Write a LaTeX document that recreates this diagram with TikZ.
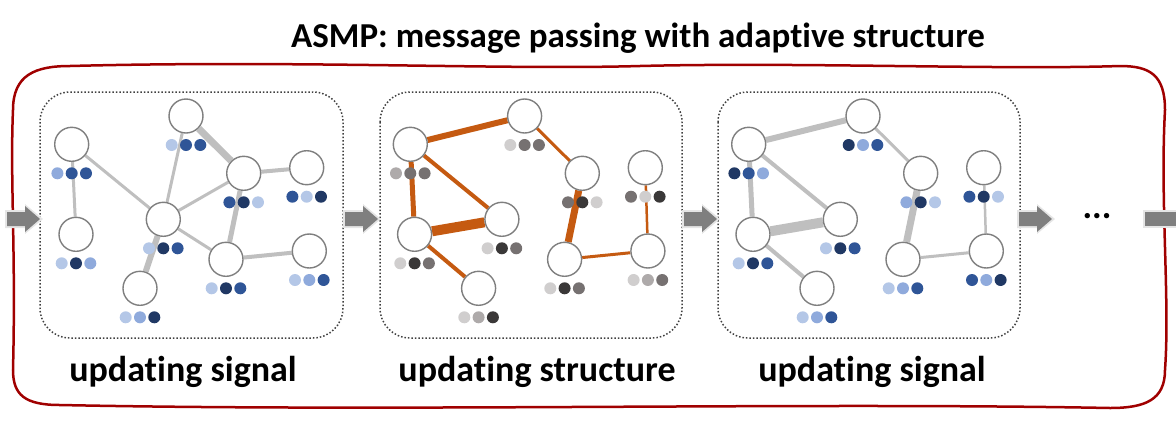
\documentclass[tikz,border=0pt]{standalone}
\usepackage{fontspec}
\setmainfont[Ligatures=NoCommon]{Carlito}
\usetikzlibrary{backgrounds}
\definecolor{lb}{HTML}{B4C7E7}\definecolor{mb}{HTML}{8FAADC}
\definecolor{bl}{HTML}{2F5597}\definecolor{dk}{HTML}{203864}
\definecolor{gl}{HTML}{D0CECE}\definecolor{gm}{HTML}{AEAAAA}
\definecolor{gg}{HTML}{767171}\definecolor{gd}{HTML}{3A3838}
\definecolor{edgeg}{HTML}{BFBFBF}\definecolor{edgeo}{HTML}{C55A11}
\definecolor{frame}{HTML}{A00000}\definecolor{nodeb}{HTML}{7F7F7F}
\tikzset{
 gnode/.style={circle,draw=nodeb,line width=1.4pt,fill=white,minimum size=34pt,inner sep=0},
 dotn/.style={circle,inner sep=0,minimum size=12pt,fill=#1},
 panel/.style={draw=black!75,dotted,line width=1.5pt,rounded corners=30pt},
 lbl/.style={font=\bfseries\fontsize{36}{40}\selectfont},
 ed/.style={line width=#1pt},
}
\newcommand\graphnodes[2]{%
 \foreach \n/\x/\y in {a/71.7/144.3,b/76/234.3,c/186/116,d/163.3/219.3,e/243.7/173.3,f/306.7/167.7,g/226/259.3,h/309.3/251,i/140/288.3}
  \node[gnode] (#1\n) at (\x+#2,\y) {};}
\newcommand\dotrow[4]{%
 \node[dotn=#2] (#1d1) at ([shift={(-14.3,29)}]#1.center) {};
 \node[dotn=#3] (#1d2) at ([shift={(0,29)}]#1.center) {};
 \node[dotn=#4] (#1d3) at ([shift={(14.3,29)}]#1.center) {};}
\newcommand\bigarrow[2]{% tip x, y
 \fill[black!10] (#1-35,#2-9) -- (#1-15,#2-9) -- (#1-15,#2-15) -- (#1+3,#2) -- (#1-15,#2+15) -- (#1-15,#2+9) -- (#1-35,#2+9) -- cycle;
 \fill[nodeb] (#1-33,#2-7) -- (#1-15,#2-7) -- (#1-15,#2-13) -- (#1,#2) -- (#1-15,#2+13) -- (#1-15,#2+7) -- (#1-33,#2+7) -- cycle;}
\begin{document}
\begin{tikzpicture}[x=1pt,y=-1pt]
\useasboundingbox (0,0) rectangle (1176,432);
% outer frame
\draw[frame,line width=2.5pt]
 (13,110) .. controls (13,75) and (35,66) .. (70,66)
 .. controls (300,60) and (500,70) .. (640,66) .. controls (800,62) and (1000,70) .. (1120,66)
 .. controls (1150,66) and (1165,75) .. (1165,110)
 .. controls (1160,200) and (1170,300) .. (1165,370)
 .. controls (1165,400) and (1145,408) .. (1110,408)
 .. controls (800,402) and (400,412) .. (60,405)
 .. controls (25,405) and (13,395) .. (13,370)
 .. controls (16,250) and (10,180) .. (13,110) -- cycle;
\node[font=\bfseries\fontsize{35}{38}\selectfont] (title) at (638,38) {ASMP: message passing with adaptive structure};
% panels
\draw[panel] (40,92) rectangle (343,338);
\draw[panel] (380,92) rectangle (682,338);
\draw[panel] (718,92) rectangle (1020,338);
\graphnodes{p}{0}
\graphnodes{q}{338.6}
\graphnodes{r}{677}
\begin{scope}[on background layer]
 \draw[edgeg,ed=3] (pa)--(pd); \draw[edgeg,ed=3] (pa)--(pb); \draw[edgeg,ed=3] (pc)--(pd);
 \draw[edgeg,ed=7] (pc)--(pe); \draw[edgeg,ed=3] (pe)--(pd); \draw[edgeg,ed=4] (pe)--(pf);
 \draw[edgeg,ed=5] (pe)--(pg); \draw[edgeg,ed=3] (pd)--(pg); \draw[edgeg,ed=6] (pd)--(pi);
 \draw[edgeg,ed=4] (pg)--(ph);
 \foreach \s/\c in {q/edgeo,r/edgeg}{
  \draw[\c,ed=6] (\s a)--(\s c); \draw[\c,ed=5] (\s a)--(\s b); \draw[\c,ed=4] (\s a)--(\s d);
  \draw[\c,ed=10] (\s b)--(\s d); \draw[\c,ed=4] (\s b)--(\s i); \draw[\c,ed=3] (\s c)--(\s e);
  \draw[\c,ed=7] (\s e)--(\s g); \draw[\c,ed=3] (\s g)--(\s h); \draw[\c,ed=2.5] (\s f)--(\s h);}
\end{scope}
% dots panel 1
\dotrow{pa}{mb}{bl}{bl}\dotrow{pb}{lb}{dk}{mb}\dotrow{pc}{lb}{bl}{bl}
\dotrow{pd}{lb}{dk}{bl}\dotrow{pe}{bl}{dk}{lb}\dotrow{pf}{bl}{lb}{dk}
\dotrow{pg}{lb}{dk}{bl}\dotrow{ph}{lb}{mb}{bl}\dotrow{pi}{lb}{mb}{dk}
% dots panel 2
\dotrow{qa}{gm}{gg}{gg}\dotrow{qb}{gl}{gd}{gg}\dotrow{qc}{gl}{gg}{gg}
\dotrow{qd}{gl}{gd}{gg}\dotrow{qe}{gg}{gd}{gl}\dotrow{qf}{gg}{gl}{gd}
\dotrow{qg}{gl}{gd}{gg}\dotrow{qh}{gl}{gm}{gg}\dotrow{qi}{gl}{gm}{gd}
% dots panel 3
\dotrow{ra}{dk}{bl}{mb}\dotrow{rb}{lb}{dk}{bl}\dotrow{rc}{dk}{mb}{bl}
\dotrow{rd}{lb}{dk}{bl}\dotrow{re}{mb}{dk}{lb}\dotrow{rf}{bl}{dk}{lb}
\dotrow{rg}{lb}{mb}{bl}\dotrow{rh}{bl}{mb}{dk}\dotrow{ri}{lb}{mb}{bl}
% labels
\node[lbl] (l1) at (183,372) {updating signal};
\node[lbl] (l2) at (537,372) {updating structure};
\node[lbl] (l3) at (872,372) {updating signal};
% arrows
\bigarrow{40}{219}
\bigarrow{378}{219}
\bigarrow{717}{219}
\bigarrow{1052}{219}
\fill[black!10] (1143,210) rectangle (1176,228);
\fill[nodeb] (1145,212) rectangle (1176,226);
\node[font=\bfseries\fontsize{36}{40}\selectfont] (ell) at (1097,216) {...};
\end{tikzpicture}
\end{document}
